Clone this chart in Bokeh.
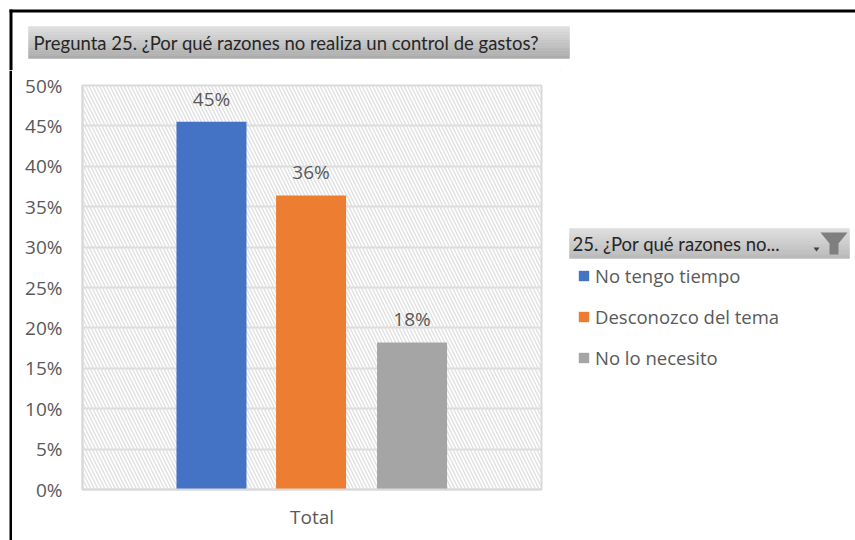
from bokeh.plotting import figure
from bokeh.layouts import column, row
from bokeh.embed import file_html
from bokeh.resources import INLINE
from bokeh.transform import dodge
from bokeh.core.properties import value
from bokeh.models import (BoxAnnotation, ColumnDataSource, FactorRange, FixedTicker, Label,
                          Legend, LegendItem, NumeralTickFormatter, Range1d)

title = "Pregunta 25. ¿Por qué razones no realiza un control de gastos?"
legend_title = "25. ¿Por qué razones no..."
category = ["Total"]
series = ["No tengo tiempo", "Desconozco del tema", "No lo necesito"]
values = [0.455, 0.364, 0.182]
labels = ["45%", "36%", "18%"]
colors = ["#4472C4", "#ED7D31", "#A5A5A5"]
y_ticks = [0, .05, .10, .15, .20, .25, .30, .35, .40, .45, .50]

GRAY = "#595959"
TOTAL_W, TOTAL_H = 855, 540
TOP_H = 70          # title strip
EDGE_W = 12         # left border strip
CHART_W = 560 - EDGE_W
LOW_H = TOTAL_H - TOP_H


def canvas(w, h):
    """Figure whose frame fills it; data units are its own pixels, y downwards."""
    f = figure(width=w, height=h, output_backend="svg", toolbar_location=None, tools="",
               x_range=Range1d(0, w), y_range=Range1d(h, 0), min_border=0,
               x_axis_location=None, y_axis_location=None,
               frame_width=w, frame_height=h, frame_align=False)
    f.grid.visible = False
    f.outline_line_color = None
    return f


def band(f, x0, y0, x1, y1, c0, c1, n=12):
    """Vertical grey gradient."""
    for i in range(n):
        t = i / (n - 1)
        c = tuple(round(a + (b - a) * t) for a, b in zip(c0, c1))
        f.quad(left=[x0], right=[x1], top=[y0 + (y1 - y0) * i / n], bottom=[y0 + (y1 - y0) * (i + 1) / n],
               fill_color="#%02x%02x%02x" % c, line_color="#%02x%02x%02x" % c, line_width=0.5)


# --- top strip: border and title band
top = canvas(TOTAL_W, TOP_H)
top.quad(left=[9], right=[TOTAL_W], top=[9], bottom=[12], fill_color="black", line_color=None)
top.quad(left=[9], right=[12], top=[9], bottom=[TOP_H], fill_color="black", line_color=None)
band(top, 28, 26, 569, 58, (222, 222, 222), (172, 172, 172))
top.add_layout(Label(x=33, y=42, text=title, text_font="Lato", text_font_size="18.5px",
                     text_color="#262626", text_baseline="middle"))

# --- left border strip
edge = canvas(EDGE_W, LOW_H)
edge.quad(left=[9], right=[12], top=[0], bottom=[LOW_H], fill_color="black", line_color=None)

# --- chart
p = figure(width=CHART_W, height=LOW_H, output_backend="svg", toolbar_location=None, tools="",
           x_range=FactorRange(factors=category), y_range=Range1d(0, 0.5),
           min_border_left=82 - EDGE_W, min_border_right=560 - 541,
           min_border_top=85 - TOP_H, min_border_bottom=540 - 489,
           frame_width=541 - 82, frame_height=489 - 85, frame_align=False)
p.outline_line_color = "#D9D9D9"
p.outline_line_width = 2
p.add_layout(BoxAnnotation(fill_alpha=0, line_alpha=0, hatch_pattern="left_diagonal_line",
                           hatch_color="#E2E2E2", hatch_alpha=1, hatch_scale=7, hatch_weight=1.5,
                           level="underlay"))
p.ygrid.ticker = FixedTicker(ticks=y_ticks)
p.ygrid.grid_line_color = "#D9D9D9"
p.ygrid.grid_line_width = 2
p.xgrid.visible = False
p.yaxis.ticker = FixedTicker(ticks=y_ticks)
p.yaxis.formatter = NumeralTickFormatter(format="0%")
for ax in (p.xaxis[0], p.yaxis[0]):
    ax.axis_line_color = "#D9D9D9"
    ax.axis_line_width = 2
    ax.major_tick_line_color = None
    ax.minor_tick_line_color = None
    ax.major_label_text_color = GRAY
    ax.major_label_text_font = "Open Sans"
    ax.major_label_text_font_size = "19px"
p.yaxis[0].major_label_standoff = 14
p.xaxis[0].major_label_standoff = 8

offsets = [-0.219, -0.002, 0.218]
for val, lab, col, off in zip(values, labels, colors, offsets):
    src = ColumnDataSource(dict(x=category, top=[val], lab=[lab]))
    p.vbar(x=dodge("x", off, range=p.x_range), top="top", width=0.1525, source=src,
           fill_color=col, line_color=None)
    p.text(x=dodge("x", off, range=p.x_range), y="top", text="lab", source=src, y_offset=-10,
           text_align="center", text_baseline="bottom", text_color=GRAY,
           text_font=value("Open Sans"), text_font_size="19px")

# --- right side: slicer header and legend
RX = EDGE_W + CHART_W
RY = TOP_H
side = canvas(TOTAL_W - RX, LOW_H)
band(side, 569 - RX, 228 - RY, 849 - RX, 258 - RY, (222, 222, 222), (186, 186, 186))
side.add_layout(Label(x=572 - RX, y=243 - RY, text=legend_title, text_font="Lato",
                      text_font_size="18.5px", text_color="#262626", text_baseline="middle"))
side.patch(x=[x - RX for x in (820, 847, 838, 838, 829, 829)],
           y=[y - RY for y in (232, 232, 243, 254, 254, 243)], fill_color="#7F7F7F", line_color=None)
side.patch(x=[x - RX for x in (813, 819, 816)], y=[y - RY for y in (247, 247, 251)],
           fill_color="#404040", line_color=None)

items = []
for name, val, col in zip(series, values, colors):
    # bar lies outside this canvas's ranges: only its legend swatch shows
    r = side.vbar(x=[-1000], top=[val], width=1, fill_color=col, line_color=None)
    items.append(LegendItem(label=name, renderers=[r]))
legend = Legend(items=items, location=(577 - RX, 170), orientation="vertical",
                background_fill_alpha=0, border_line_color=None,
                label_text_font="Open Sans", label_text_font_size="18.5px", label_text_color=GRAY,
                glyph_width=13, glyph_height=13, spacing=16, padding=0, margin=0,
                label_standoff=5, label_height=20)
side.add_layout(legend, "center")

page = column(top, row(edge, p, side, spacing=0), spacing=0)
open("out.html", "w").write(file_html(page, INLINE))
